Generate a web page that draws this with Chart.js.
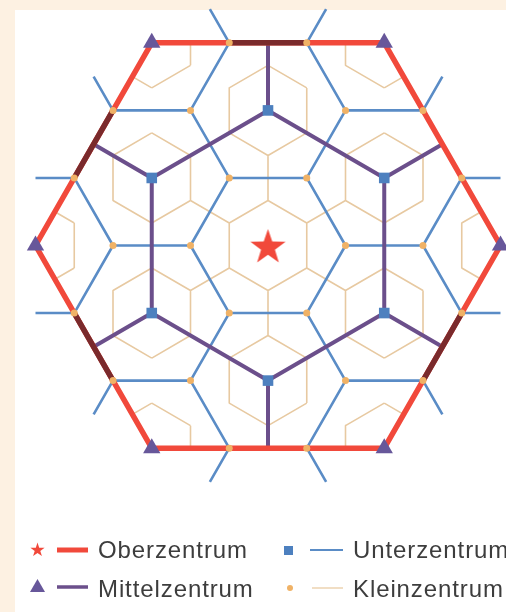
<!DOCTYPE html>
<html lang="de">
<head>
<meta charset="utf-8">
<title>Zentrale Orte</title>
<script src="https://cdn.jsdelivr.net/npm/chart.js@4.4.1/dist/chart.umd.min.js"></script>
<style>
  html, body { margin: 0; padding: 0; }
  body { width: 506px; height: 612px; overflow: hidden; position: relative;
         background: #fdf1e2; font-family: "Liberation Sans", Arial, sans-serif; }
  #panel { position: absolute; left: 15px; top: 10px; right: 0; bottom: 0; background: #fff; }
  #map { position: absolute; left: 0; top: 0; }
  #key { position: absolute; left: 0; top: 0; }
  .lbl { position: absolute; font-size: 24px; line-height: 24px; letter-spacing: 0.9px;
         color: #3d3d3d; white-space: nowrap; }
</style>
</head>
<body>
<div id="panel"></div>
<canvas id="map" width="506" height="612"></canvas>
<svg id="key" width="506" height="612">
  <polygon id="keyStar" fill="#f1493b"></polygon>
  <line x1="57" y1="550" x2="88" y2="550" stroke="#f1493b" stroke-width="5"></line>
  <rect x="284" y="546" width="9" height="9" fill="#4d80bf"></rect>
  <line x1="310" y1="550" x2="343" y2="550" stroke="#5a8cc6" stroke-width="2"></line>
  <polygon points="30,592 45,592 37.5,579" fill="#67579a"></polygon>
  <line x1="57" y1="587" x2="88" y2="587" stroke="#6b4f8b" stroke-width="3.5"></line>
  <circle cx="290" cy="588" r="3" fill="#f0b266"></circle>
  <line x1="312" y1="588" x2="343" y2="588" stroke="#ecd3b1" stroke-width="1.5"></line>
</svg>
<div class="lbl" style="left:98px;top:538px">Oberzentrum</div>
<div class="lbl" style="left:353px;top:538px">Unterzentrum</div>
<div class="lbl" style="left:98px;top:577px">Mittelzentrum</div>
<div class="lbl" style="left:353px;top:577px">Kleinzentrum</div>
<script>
// Zentrale Orte nach Christaller (Versorgungsprinzip, k = 3)
// Einheit: Abstand zwischen benachbarten Orten unterster Stufe
const oberzentrum = [[0, 0]];
const mittelzentren = [[3, 0], [1.5, 2.598], [-1.5, 2.598], [-3, 0], [-1.5, -2.598], [1.5, -2.598]];
const unterzentren = [[1.5, 0.866], [0, 1.732], [-1.5, 0.866], [-1.5, -0.866], [0, -1.732], [1.5, -0.866]];
const kleinzentren = [
  [1, 0], [0.5, 0.866], [-0.5, 0.866], [-1, 0], [-0.5, -0.866], [0.5, -0.866],
  [2, 0], [1, 1.732], [-1, 1.732], [-2, 0], [-1, -1.732], [1, -1.732],
  [2.5, 0.866], [2, 1.732], [0.5, 2.598], [-0.5, 2.598], [-2, 1.732], [-2.5, 0.866],
  [-2.5, -0.866], [-2, -1.732], [-0.5, -2.598], [0.5, -2.598], [2, -1.732], [2.5, -0.866]
];
// nur um die inneren sechs Kleinzentren ist ein eigener Bereich gezeichnet
const kleinMitBereich = kleinzentren.slice(0, 6);
// Randkanten des Oberzentrums mit dunklem Überdruck (0 = rechts oben, gegen den Uhrzeigersinn)
const dunkleKanten = [1, 2, 3, 5];

// Lage im Bild
const CENTER_PX = [268, 245.5];
const UNIT_PX = [77.5, 78];
const W = 506, H = 612;
const UNTER_REACH = 3.5 / 3;   // wie weit die Unterzentrum-Grenzen über den Rand laufen
const GAP = { x: null, y: null };

function hexagon(c, radius, startDeg) {
  const pts = [];
  for (let k = 0; k < 6; k++) {
    const a = (startDeg + 60 * k) * Math.PI / 180;
    pts.push([c[0] + radius * Math.cos(a), c[1] + radius * Math.sin(a)]);
  }
  return pts;
}

// Cyrus-Beck gegen konvexes Polygon (gegen den Uhrzeigersinn)
function clip(a, b, poly) {
  let t0 = 0, t1 = 1;
  const dx = b[0] - a[0], dy = b[1] - a[1];
  for (let i = 0; i < poly.length; i++) {
    const p = poly[i], q = poly[(i + 1) % poly.length];
    const nx = -(q[1] - p[1]), ny = q[0] - p[0];
    const num = nx * (a[0] - p[0]) + ny * (a[1] - p[1]);
    const den = nx * dx + ny * dy;
    if (Math.abs(den) < 1e-9) { if (num < -1e-9) return null; continue; }
    const t = -num / den;
    if (den > 0) t0 = Math.max(t0, t); else t1 = Math.min(t1, t);
  }
  if (t1 - t0 < 1e-6) return null;
  return [[a[0] + t0 * dx, a[1] + t0 * dy], [a[0] + t1 * dx, a[1] + t1 * dy]];
}

function cellEdges(centers, radius, startDeg, poly) {
  const seen = new Set(), segs = [];
  centers.forEach(c => {
    const h = hexagon(c, radius, startDeg);
    h.forEach((p, i) => {
      const q = h[(i + 1) % 6];
      const k = [p, q].map(v => v.map(n => n.toFixed(2)).join(',')).sort().join('|');
      if (seen.has(k)) return;
      seen.add(k);
      const s = clip(p, q, poly);
      if (s) segs.push(s);
    });
  });
  return segs;
}

function toPoints(segs) {
  const out = [];
  segs.forEach(([a, b]) => out.push({ x: a[0], y: a[1] }, { x: b[0], y: b[1] }, GAP));
  return out;
}
const xy = list => list.map(p => ({ x: p[0], y: p[1] }));

const rand = mittelzentren;                                  // Grenze des Oberzentrums
const weitRand = mittelzentren.map(p => [p[0] * UNTER_REACH, p[1] * UNTER_REACH]);

// Kleinzentrum-Bereiche
const tanSegs = cellEdges(oberzentrum.concat(unterzentren, mittelzentren, kleinMitBereich),
                          1 / Math.sqrt(3), 30, rand);
// Unterzentrum-Bereiche
const blueSegs = cellEdges(oberzentrum.concat(unterzentren, mittelzentren), 1, 0, weitRand);
// Mittelzentrum-Grenzen: Sechseck durch die Unterzentren und Strahlen bis zum Rand
const purpleSegs = [];
unterzentren.forEach((p, i) => {
  purpleSegs.push([p, unterzentren[(i + 1) % 6]]);
  const s = clip(p, [p[0] * 2, p[1] * 2], rand);
  if (s) purpleSegs.push(s);
});
// dunkle Stücke auf dem roten Rand
const darkSegs = [];
dunkleKanten.forEach(k => {
  const a = rand[k], b = rand[(k + 1) % 6];
  const len = Math.hypot(b[0] - a[0], b[1] - a[1]);
  const on = kleinzentren.filter(p =>
    Math.abs((b[0] - a[0]) * (p[1] - a[1]) - (b[1] - a[1]) * (p[0] - a[0])) / len < 0.01);
  if (on.length === 2) darkSegs.push(on);
});

function starImage(R, r, color, dy) {
  const c = document.createElement('canvas');
  const s = Math.ceil(2 * R + 2 * dy + 4);
  c.width = c.height = s;
  const g = c.getContext('2d');
  g.fillStyle = color;
  g.beginPath();
  for (let i = 0; i < 10; i++) {
    const rad = i % 2 ? r : R;
    const a = -Math.PI / 2 + i * Math.PI / 5;
    g.lineTo(s / 2 + rad * Math.cos(a), s / 2 + dy + rad * Math.sin(a));
  }
  g.closePath();
  g.fill();
  return c;
}

// Legendenstern
(function () {
  const pts = [];
  for (let i = 0; i < 10; i++) {
    const rad = i % 2 ? 2.9 : 7.5;
    const a = -Math.PI / 2 + i * Math.PI / 5;
    pts.push((37.5 + rad * Math.cos(a)).toFixed(1) + ',' + (550 + rad * Math.sin(a)).toFixed(1));
  }
  document.getElementById('keyStar').setAttribute('points', pts.join(' '));
})();

const lineSet = (label, data, color, width, order) => ({
  label, data, order, showLine: true, spanGaps: false, fill: false,
  borderColor: color, borderWidth: width, borderCapStyle: 'butt', borderJoinStyle: 'round',
  pointRadius: 0, pointHoverRadius: 0, tension: 0
});

new Chart(document.getElementById('map'), {
  type: 'scatter',
  data: {
    datasets: [
      lineSet('Kleinzentrum-Bereich', toPoints(tanSegs), '#e7c9a1', 1.6, 9),
      lineSet('Unterzentrum-Bereich', toPoints(blueSegs), '#5a8cc6', 2.6, 8),
      lineSet('Mittelzentrum-Bereich', toPoints(purpleSegs), '#6b4f8b', 4, 7),
      lineSet('Oberzentrum-Bereich', xy(rand.concat([rand[0]])), '#f1493b', 5.5, 6),
      lineSet('Überdruck', toPoints(darkSegs), '#7a2a2c', 5.5, 5),
      { label: 'Kleinzentrum', data: xy(kleinzentren), order: 4, pointStyle: 'circle',
        pointRadius: 3.5, backgroundColor: '#f0b266', borderWidth: 0 },
      { label: 'Unterzentrum', data: xy(unterzentren), order: 3, pointStyle: 'rect',
        pointRadius: 7.5, backgroundColor: '#4d80bf', borderWidth: 0 },
      { label: 'Mittelzentrum', data: xy(mittelzentren), order: 2, pointStyle: 'triangle',
        pointRadius: 10, backgroundColor: '#67579a', borderWidth: 0 },
      { label: 'Oberzentrum', data: xy(oberzentrum), order: 1,
        pointStyle: starImage(18.5, 7.3, '#f1493b', 2), pointRadius: 18 }
    ]
  },
  options: {
    responsive: false,
    animation: false,
    events: [],
    layout: { padding: 0, autoPadding: false },
    plugins: { legend: { display: false }, tooltip: { enabled: false } },
    scales: {
      x: { type: 'linear', display: false,
           min: -CENTER_PX[0] / UNIT_PX[0], max: (W - CENTER_PX[0]) / UNIT_PX[0] },
      y: { type: 'linear', display: false,
           min: -(H - CENTER_PX[1]) / UNIT_PX[1], max: CENTER_PX[1] / UNIT_PX[1] }
    }
  }
});
</script>
</body>
</html>
